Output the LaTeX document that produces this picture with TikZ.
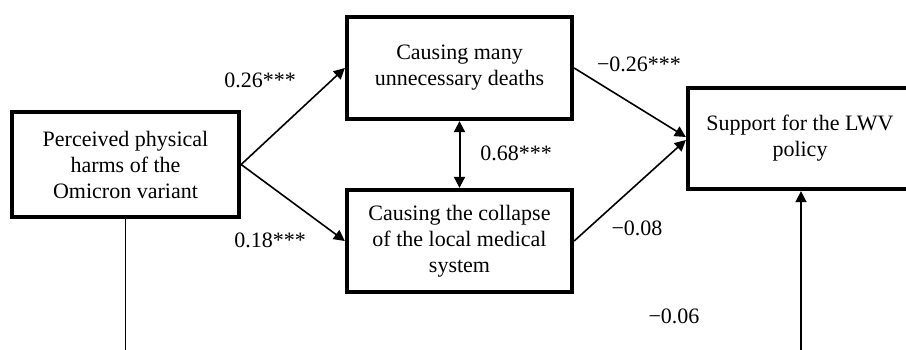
\documentclass[tikz,border=0pt]{standalone}
\usepackage{fontspec}
\setmainfont{Liberation Serif}
\usetikzlibrary{arrows.meta}

\begin{document}
\begin{tikzpicture}[x=1pt, y=-1pt, >={Triangle[length=11pt,width=11pt]},
    box/.style={draw, line width=4.3pt, align=center, inner sep=0pt,
        font=\fontsize{22}{26}\selectfont},
    path/.style={->, line width=1.6pt},
    coef/.style={font=\fontsize{22}{26}\selectfont}]

    % page is 906 x 349
    \useasboundingbox (0,0) rectangle (906,349);
    \clip (0,0) rectangle (906,349);

    % the four variables
    \node[box, minimum width=227pt, minimum height=105pt] (harms) at (125.5,164.5)
        {Perceived physical\\harms of the\\Omicron variant};
    \node[box, minimum width=225pt, minimum height=102pt] (deaths) at (459.5,68)
        {Causing many\\unnecessary deaths};
    \node[box, minimum width=225pt, minimum height=102pt] (collapse) at (459.5,241)
        {Causing the collapse\\of the local medical\\system};
    \node[box, minimum width=224pt, minimum height=101pt] (support) at (800,138.5)
        {Support for the LWV\\policy};

    % direct path, running below the page
    \coordinate (harmsdown) at (125.5,360);
    \coordinate (supportup) at (801,360);
    \draw[line width=1.6pt] (harms.south) -- (harmsdown);
    \draw[path] (supportup) -- (support.south -| supportup);

    % mediated paths
    \draw[path] (harms.east) -- (deaths.west);
    \draw[path] (harms.east) -- (collapse.west);
    \draw[path] (deaths.east) -- ([yshift=1.5pt]support.west);
    \draw[path] (collapse.east) -- ([yshift=-1.5pt]support.west);
    \draw[<->, line width=2pt] (deaths.south) -- (collapse.north);

    % coefficients
    \node[coef] (c1) at (260,80) {0.26***};
    \node[coef] (c2) at (270,240) {0.18***};
    \node[coef] (c3) at (639,64) {−0.26***};
    \node[coef] (c4) at (516,153) {0.68***};
    \node[coef] (c5) at (637,228) {−0.08};
    \node[coef] (c6) at (674,316) {−0.06};

\end{tikzpicture}
\end{document}
